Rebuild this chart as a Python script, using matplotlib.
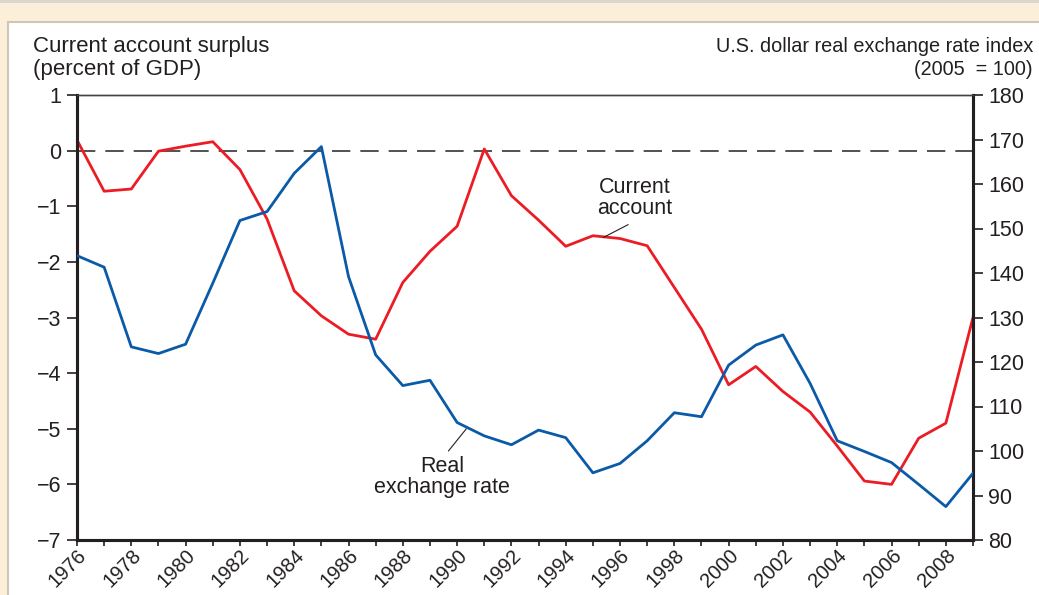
import matplotlib.pyplot as plt
from matplotlib.patches import Rectangle

plt.rcParams['font.family'] = ['Liberation Sans', 'DejaVu Sans']

years = list(range(1976, 2010))

# current account surplus, percent of GDP (left axis)
current_account = [0.19, -0.73, -0.69, -0.01, 0.08, 0.16, -0.34, -1.23, -2.52, -2.97,
                   -3.30, -3.39, -2.37, -1.81, -1.36, 0.03, -0.81, -1.25, -1.72, -1.53,
                   -1.58, -1.71, -2.46, -3.21, -4.21, -3.88, -4.33, -4.70, -5.31, -5.94,
                   -6.00, -5.17, -4.90, -3.00]

# US dollar real exchange rate index, 2005 = 100 (right axis)
real_rate = [143.9, 141.3, 123.4, 121.9, 124.0, 137.7, 151.8, 153.8, 162.4, 168.4,
             139.2, 121.6, 114.7, 115.9, 106.4, 103.4, 101.4, 104.7, 103.0, 95.1,
             97.2, 102.3, 108.6, 107.7, 119.3, 123.8, 126.1, 115.2, 102.3, 99.9,
             97.4, 92.5, 87.5, 95.0]

left_ticks = [1, 0, -1, -2, -3, -4, -5, -6, -7]
right_ticks = [180, 170, 160, 150, 140, 130, 120, 110, 100, 90, 80]
year_labels = list(range(1976, 2009, 2))

red = '#ec1c24'
blue = '#0a5aa8'
dark = '#231f20'
fs = 15.5

fig = plt.figure(figsize=(10.39, 5.95), dpi=100)
fig.patch.set_facecolor('#fcefd9')
# white panel with thin border
fig.patches.append(Rectangle((8 / 1039, -0.01), 1.0, 1.01 - 22 / 595, transform=fig.transFigure,
                             facecolor='white', edgecolor='#cfc6b8', linewidth=1.5, zorder=-10))
fig.patches.append(Rectangle((0, 1 - 3 / 595), 1.0, 3 / 595, transform=fig.transFigure,
                             facecolor='#d9d6d0', edgecolor='none', zorder=-10))

ax = fig.add_axes([77 / 1039, 1 - 540 / 595, (973 - 77) / 1039, (540 - 95) / 595])
ax.set_facecolor('none')
ax2 = ax.twinx()

ax.axhline(0, color='#333333', lw=1.2, dashes=(11, 6), zorder=1)
ax.plot(years, current_account, color=red, lw=2.0, zorder=3)
ax2.plot(years, real_rate, color=blue, lw=2.0, zorder=3)

ax.set_xlim(1976, 2009)
ax.set_ylim(-7, 1)
ax2.set_ylim(80, 180)

ax.set_yticks(left_ticks)
ax.set_yticklabels([str(t).replace('-', '\u2212') for t in left_ticks], fontsize=fs, color=dark)
ax2.set_yticks(right_ticks)
ax2.set_yticklabels([str(t) for t in right_ticks], fontsize=fs, color=dark)

ax.set_xticks(years)
ax.set_xticklabels([str(y) if y in year_labels else '' for y in years],
                   rotation=45, ha='right', rotation_mode='anchor', fontsize=14.5, color=dark)

ax.tick_params(axis='y', direction='out', length=7, width=1.2, color=dark, pad=4)
ax.tick_params(axis='x', direction='out', length=4, width=1.2, color=dark, pad=0)
ax2.tick_params(axis='y', direction='out', length=7, width=1.2, color=dark, pad=4)

for a in (ax, ax2):
    for s in ('left', 'bottom', 'right'):
        a.spines[s].set_linewidth(2.2)
        a.spines[s].set_color(dark)
    a.spines['top'].set_linewidth(1.0)
    a.spines['top'].set_color('#444444')

fig.text(33 / 1039, 1 - 58 / 595, 'Current account surplus\n(percent of GDP)',
         ha='left', va='center', fontsize=16, color=dark, linespacing=1.15)
fig.text(1033 / 1039, 1 - 58 / 595, 'U.S. dollar real exchange rate index\n(2005  = 100)',
         ha='right', va='center', fontsize=14.3, color=dark, linespacing=1.25, multialignment='right')

# labels with leader lines
ax.text(1996.53, -0.85, 'Current\naccount', ha='center', va='center',
        fontsize=fs, color=dark, linespacing=1.0)
ax.annotate('', xy=(1995.39, -1.56), xytext=(1996.3, -1.33),
            arrowprops=dict(arrowstyle='-', color=dark, lw=0.8, shrinkA=0, shrinkB=0))
ax.text(1989.45, -5.86, 'Real\nexchange rate', ha='center', va='center',
        fontsize=fs, color=dark, linespacing=1.0)
ax.annotate('', xy=(1990.34, -5.0), xytext=(1989.68, -5.40),
            arrowprops=dict(arrowstyle='-', color=dark, lw=0.8, shrinkA=0, shrinkB=0))

fig.savefig('out.png', dpi=100)
